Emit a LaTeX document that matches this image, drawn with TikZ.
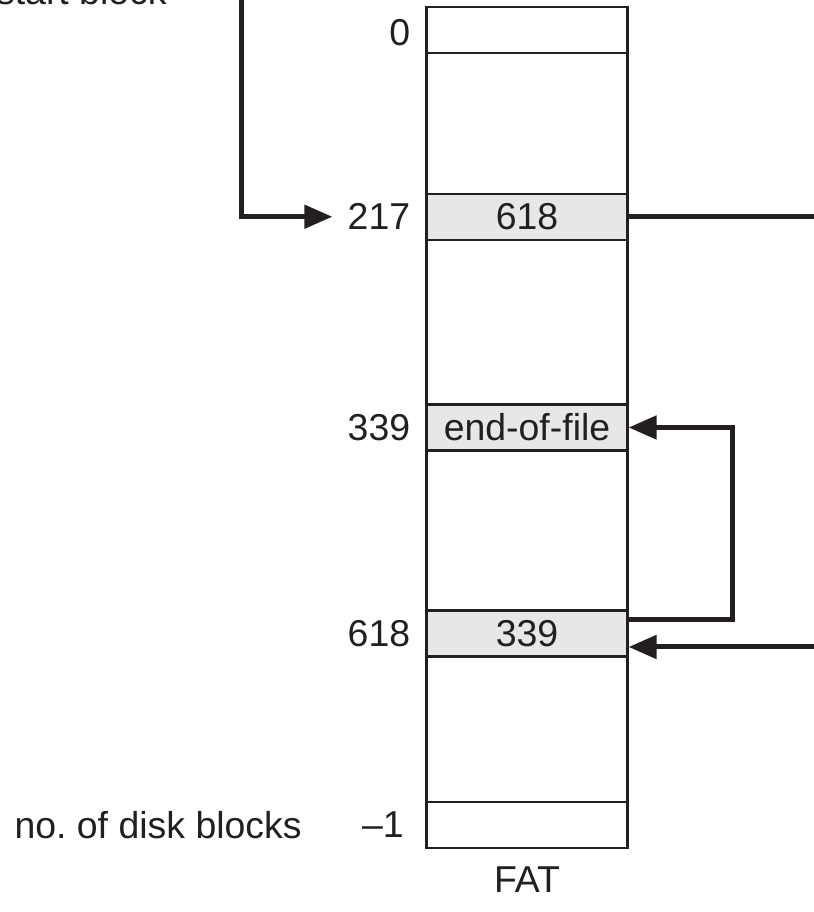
\documentclass[tikz,border=0pt]{standalone}
\usepackage{fontspec}
\setmainfont{Liberation Sans}
\usepackage{tikz}
\usetikzlibrary{arrows.meta,positioning}
\usepackage{xcolor}
\definecolor{ink}{RGB}{35,31,32}
\definecolor{shade}{RGB}{230,231,232}
\frenchspacing
\begin{document}
\begin{tikzpicture}[>={Triangle[length=5.6mm,width=4.6mm]},font=\fontsize{21.3}{25.6}\selectfont,
  color=ink,text=ink,
  cell/.style={draw=ink,line width=0.045cm,minimum width=4.02cm,minimum height=0.92cm,inner sep=0pt},
  used/.style={cell,fill=shade},
  idx/.style={anchor=east,inner sep=0pt},
  link/.style={draw=ink,line width=0.1cm},
  ptr/.style={link,->}]
\useasboundingbox (0,0) rectangle (16.28,18.24);
\node[draw=ink,line width=0.045cm,minimum width=4.02cm,minimum height=16.82cm,inner sep=0pt] (fat) at (10.54,9.69) {};
\node[cell] (cell0) at (10.54,17.64) {};
\node[used] (cell217) at (10.54,13.905) {618};
\node[used] (cell339) at (10.54,9.69) {end-of-file};
\node[used] (cell618) at (10.54,5.57) {339};
\node[cell] (celllast) at (10.54,1.74) {};
\node[idx] (l0) at (8.21,17.58) {0};
\node[idx] (l217) at (8.21,13.905) {217};
\node[idx] (l339) at (8.21,9.69) {339};
\node[idx] (l618) at (8.21,5.57) {618};
\node[idx] (llast) at (8.08,1.74) {\textendash1};
\node[idx] (ndb) at (6.04,1.74) {no. of disk blocks};
\node (fatlbl) at (10.54,0.64) {FAT};
\node[anchor=base east,inner sep=0pt] (startlbl) at (3.34,18.14) {start block};
\coordinate (startin) at (4.834,18.6);
\coordinate (exit) at (16.6,13.905);
\coordinate (enter) at (16.6,5.30);
\draw[ptr] (startin) |- ([xshift=-0.3cm]l217.west);
\draw[link] (cell217.east) -- (exit);
\draw[ptr] ([yshift=0.27cm]cell618.east) -- ++(2.08,0) |- (cell339.east);
\draw[ptr] (enter) -- ([yshift=-0.27cm]cell618.east);
\end{tikzpicture}
\end{document}
